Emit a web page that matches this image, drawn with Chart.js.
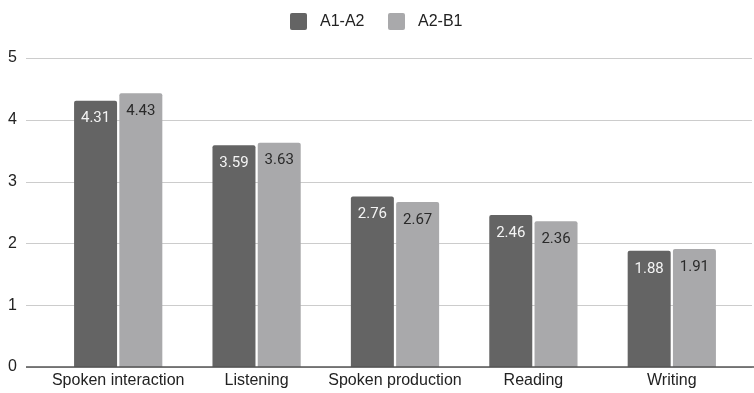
<!DOCTYPE html>
<html>
<head>
<meta charset="utf-8">
<script src="https://cdn.jsdelivr.net/npm/chart.js@4/dist/chart.umd.min.js"></script>
<style>
  html, body { margin: 0; padding: 0; background: #ffffff; overflow: hidden; }
  #wrap { width: 754px; height: 393px; position: relative; }
</style>
</head>
<body>
<div id="wrap"><canvas id="c"></canvas></div>
<script>
// Skill areas and average self-assessed scores per level group
const categories = ['Spoken interaction', 'Listening', 'Spoken production', 'Reading', 'Writing'];
const seriesNames = ['A1-A2', 'A2-B1'];
const a1a2 = [4.31, 3.59, 2.76, 2.46, 1.88];
const a2b1 = [4.43, 3.63, 2.67, 2.36, 1.91];
const yTicks = [0, 1, 2, 3, 4, 5];

const DARK = '#646464';
const LIGHT = '#a9a9ab';
const FONT = '"Liberation Sans", Arial, sans-serif';

// Horizontal guide lines across the full width and the baseline
const gridPlugin = {
  id: 'fullGrid',
  beforeDatasetsDraw(chart) {
    const { ctx, scales: { y } } = chart;
    ctx.save();
    yTicks.forEach(v => {
      const py = Math.round(y.getPixelForValue(v)) + 0.5;
      ctx.beginPath();
      ctx.strokeStyle = '#cccccc';
      ctx.lineWidth = 1;
      ctx.moveTo(26, py);
      ctx.lineTo(752, py);
      ctx.stroke();
    });
    ctx.restore();
  },
  afterDatasetsDraw(chart) {
    const { ctx, scales: { y } } = chart;
    const py = y.getPixelForValue(0);
    ctx.save();
    ctx.beginPath();
    ctx.strokeStyle = '#555555';
    ctx.lineWidth = 1.5;
    ctx.moveTo(26, py);
    ctx.lineTo(754, py);
    ctx.stroke();
    ctx.restore();
  }
};

// Centered legend row above the plot
const legendRow = {
  id: 'legendRow',
  afterDraw(chart) {
    const { ctx } = chart;
    const colors = [DARK, LIGHT];
    const xs = [290, 388];
    ctx.save();
    ctx.font = '16px ' + FONT;
    ctx.textBaseline = 'middle';
    ctx.textAlign = 'left';
    seriesNames.forEach((name, i) => {
      ctx.fillStyle = colors[i];
      ctx.beginPath();
      ctx.roundRect(xs[i], 13, 17, 17, 2);
      ctx.fill();
      ctx.fillStyle = '#222222';
      ctx.fillText(name, xs[i] + 30, 22);
    });
    ctx.restore();
  }
};

// Value labels just inside the top of each bar
const valueLabels = {
  id: 'valueLabels',
  afterDatasetsDraw(chart) {
    const { ctx } = chart;
    ctx.save();
    ctx.font = '15px Roboto, ' + FONT;
    ctx.textAlign = 'center';
    ctx.textBaseline = 'middle';
    chart.data.datasets.forEach((ds, di) => {
      const meta = chart.getDatasetMeta(di);
      meta.data.forEach((bar, i) => {
        ctx.fillStyle = di === 0 ? '#f4f4f4' : '#2a2a2a';
        ctx.fillText(ds.data[i].toFixed(2), bar.x, bar.y + 18);
      });
    });
    ctx.restore();
  }
};

new Chart(document.getElementById('c'), {
  type: 'bar',
  data: {
    labels: categories,
    datasets: [
      { label: seriesNames[0], data: a1a2, backgroundColor: DARK },
      { label: seriesNames[1], data: a2b1, backgroundColor: LIGHT }
    ]
  },
  options: {
    responsive: true,
    maintainAspectRatio: false,
    animation: false,
    devicePixelRatio: 1,
    layout: { padding: { left: 8, right: 13, top: 58, bottom: 0 } },
    datasets: {
      bar: {
        categoryPercentage: 0.654,
        barPercentage: 0.95,
        borderRadius: 2,
        borderSkipped: 'bottom'
      }
    },
    plugins: {
      legend: { display: false },
      tooltip: { enabled: false }
    },
    scales: {
      x: {
        grid: { display: false, drawTicks: false },
        border: { display: false },
        ticks: { color: '#222222', font: { family: FONT, size: 16 }, padding: 4, maxRotation: 0 },
        afterFit(scale) { scale.height = 26; }
      },
      y: {
        min: 0,
        max: 5,
        afterBuildTicks(scale) { scale.ticks = yTicks.map(v => ({ value: v })); },
        grid: { display: false, drawTicks: false },
        border: { display: false },
        ticks: { color: '#222222', font: { family: FONT, size: 16 }, padding: 2, crossAlign: 'far' },
        afterFit(scale) { scale.width = 41; }
      }
    }
  },
  plugins: [gridPlugin, valueLabels, legendRow]
});
</script>
</body>
</html>
